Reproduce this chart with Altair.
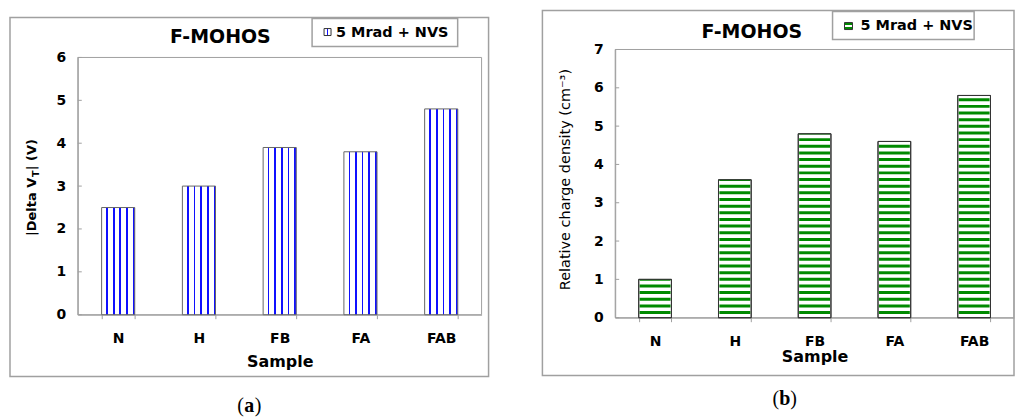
import altair as alt
import pandas as pd

# ---------------- data ----------------
samples = ["N", "H", "FB", "FA", "FAB"]
delta_vt = [2.5, 3.0, 3.9, 3.8, 4.8]
charge_density = [1.0, 3.6, 4.8, 4.6, 5.8]
y_ticks_a = [0, 1, 2, 3, 4, 5, 6]
y_ticks_b = [0, 1, 2, 3, 4, 5, 6, 7]
title_text = "F-MOHOS"
legend_text = "5 Mrad + NVS"
x_title = "Sample"
y_title_a_parts = ["|Delta V", "T", "| (V)"]
y_title_b = "Relative charge density (cm⁻³)"
panel_letters = ["a", "b"]

FONT = "DejaVu Sans"
SERIF = "Liberation Serif"
GRAY = "#a0a0a0"
BLUE = "#1010ff"
GREEN = "#008a00"

df_a = pd.DataFrame({"Sample": samples, "v": delta_vt})
df_b = pd.DataFrame({"Sample": samples, "v": charge_density})


def one_row():
    return pd.DataFrame({"k": [0]})


def text_layer(txt, x, y, size, weight="normal", align="center",
               baseline="middle", angle=0, font=FONT):
    return alt.Chart(pd.DataFrame({"t": [txt]})).mark_text(
        font=font, fontSize=size, fontWeight=weight, align=align,
        baseline=baseline, angle=angle, color="black"
    ).encode(text="t:N", x=alt.value(x), y=alt.value(y))


def rect_layer(x, x2, y, y2, fill="white", stroke=GRAY, sw=1.5, fill_opacity=1):
    return alt.Chart(one_row()).mark_rect(
        fill=fill, stroke=stroke, strokeWidth=sw, fillOpacity=fill_opacity
    ).encode(x=alt.value(x), x2=alt.value(x2), y=alt.value(y), y2=alt.value(y2))


def stops(pairs):
    return [alt.GradientStop(color=c, offset=o) for o, c in pairs]


# vertical stripes gradient for panel (a)
stripe_a = alt.LinearGradient(
    gradient="linear", x1=0, x2=1, y1=0, y2=0,
    stops=stops([
        (0, "white"), (0.14, "white"), (0.14, BLUE), (0.19, BLUE),
        (0.19, "white"), (0.34, "white"), (0.34, BLUE), (0.39, BLUE),
        (0.39, "white"), (0.54, "white"), (0.54, BLUE), (0.59, BLUE),
        (0.59, "white"), (0.74, "white"), (0.74, BLUE), (0.79, BLUE),
        (0.79, "white"), (0.94, "white"), (0.94, BLUE), (1, BLUE),
    ]),
)
swatch_a = alt.LinearGradient(
    gradient="linear", x1=0, x2=1, y1=0, y2=0,
    stops=stops([(0, "white"), (0.4, "white"), (0.4, BLUE), (0.62, BLUE),
                 (0.62, "white"), (1, "white")]),
)
swatch_b = alt.LinearGradient(
    gradient="linear", x1=0, x2=0, y1=0, y2=1,
    stops=stops([(0, GREEN), (0.36, GREEN), (0.36, "white"), (0.64, "white"),
                 (0.64, GREEN), (1, GREEN)]),
)


def x_enc(title_pad):
    return alt.X(
        "Sample:N", sort=samples,
        scale=alt.Scale(paddingInner=0.59, paddingOuter=0.295),
        axis=alt.Axis(
            title=x_title, labelAngle=0, tickBand="extent", tickSize=4,
            tickColor=GRAY, domainColor=GRAY, labelFont=FONT, labelFontSize=14,
            labelFontWeight="bold", labelColor="black", labelPadding=13,
            titleFont=FONT, titleFontSize=16, titleFontWeight="bold",
            titleColor="black", titlePadding=title_pad, grid=False,
        ),
    )


def y_axis(ticks, title):
    kw = dict(values=ticks, ticks=False, tickSize=0, domainColor=GRAY,
              labelFont=FONT, labelFontSize=14, labelFontWeight="bold",
              labelColor="black", labelPadding=12, grid=False)
    if title is None:
        kw["title"] = None
    else:
        kw.update(title=title, titleFont=FONT, titleFontSize=14.5,
                  titleFontWeight="normal", titleColor="black", titlePadding=21,
                  titleY=130)
    return alt.Axis(**kw)


# ---------------- panel (a) ----------------
# view spans 266 px; the plotted range starts 8 px below its top
WA, HA, TOPA = 405, 266, 8
ya_axis = y_axis(y_ticks_a, None)
ya_scale = alt.Scale(domain=[0, 6], range=[HA, TOPA])

bars_a = alt.Chart(df_a).mark_bar(fill=stripe_a, stroke="#666666", strokeWidth=1).encode(
    x=x_enc(8), y=alt.Y("v:Q", scale=ya_scale, axis=ya_axis)
)
ticks_a = alt.Chart(pd.DataFrame({"v": y_ticks_a})).mark_rule(color=GRAY).encode(
    x=alt.value(0), x2=alt.value(4), y=alt.Y("v:Q", scale=ya_scale, axis=ya_axis)
)

panel_a = alt.layer(
    rect_layer(-68, WA + 7, -32, HA + 62, fill_opacity=0),
    rect_layer(0, WA, TOPA, HA, stroke=GRAY, sw=1, fill_opacity=0),
    bars_a,
    ticks_a,
    text_layer(title_text, 143, -13, 19, weight="bold"),
    rect_layer(235, 381, -31, -3),
    rect_layer(247, 254, -21, -14, fill=swatch_a, stroke="#333333", sw=1),
    text_layer(legend_text, 259, -17, 14.5, weight="bold", align="left"),
    text_layer(y_title_a_parts[0], -46, 187, 13, weight="bold", align="left", angle=270),
    text_layer(y_title_a_parts[1], -42, 128, 9.5, weight="bold", align="left", angle=270),
    text_layer(y_title_a_parts[2], -46, 121, 13, weight="bold", align="left", angle=270),
    text_layer("(", 166.5, 358, 20, align="right", font=SERIF),
    text_layer(panel_letters[0], 172, 358, 20, weight="bold", font=SERIF),
    text_layer(")", 177.5, 358, 20, align="left", font=SERIF),
).properties(width=WA, height=HA)

# ---------------- panel (b) ----------------
WB, HB = 400, 269
yb_axis = y_axis(y_ticks_b, y_title_b)
yb_scale = alt.Scale(domain=[0, 7])

base_b = alt.Chart(df_b).mark_bar(fill="white", stroke="#333333", strokeWidth=1).encode(
    x=x_enc(0), y=alt.Y("v:Q", scale=yb_scale, axis=yb_axis)
)
stripes_b = alt.Chart(df_b).transform_calculate(base="0").mark_rule(
    color=GREEN, strokeWidth=31, strokeDash=[3, 3.67], strokeDashOffset=3
).encode(
    x=x_enc(0),
    y=alt.Y("base:Q", scale=yb_scale, axis=yb_axis),
    y2="v:Q",
)
outline_b = alt.Chart(df_b).mark_bar(fillOpacity=0, stroke="#333333", strokeWidth=1).encode(
    x=x_enc(0), y=alt.Y("v:Q", scale=yb_scale, axis=yb_axis)
)
ticks_b = alt.Chart(pd.DataFrame({"v": y_ticks_b})).mark_rule(color=GRAY).encode(
    x=alt.value(0), x2=alt.value(4), y=alt.Y("v:Q", scale=yb_scale, axis=yb_axis)
)

panel_b = alt.layer(
    rect_layer(-73, WB, -39, HB + 58, fill_opacity=0),
    rect_layer(0, WB, 0, HB, stroke=GRAY, sw=1, fill_opacity=0),
    base_b,
    stripes_b,
    outline_b,
    ticks_b,
    text_layer(title_text, 137, -18, 19, weight="bold"),
    rect_layer(218, 360, -38, -10),
    rect_layer(230, 238, -27, -20, fill=swatch_b, stroke="#333333", sw=1),
    text_layer(legend_text, 246, -24, 14.5, weight="bold", align="left"),
    text_layer("(", 164.5, 351, 20, align="right", font=SERIF),
    text_layer(panel_letters[1], 170, 351, 20, weight="bold", font=SERIF),
    text_layer(")", 175.5, 351, 20, align="left", font=SERIF),
).properties(width=WB, height=HB)

chart = alt.hconcat(panel_a, panel_b, spacing=50).configure_view(
    stroke="transparent"
).properties(padding=0, background="white")

chart.save("out.html", embed_options={"renderer": "svg", "actions": False})
